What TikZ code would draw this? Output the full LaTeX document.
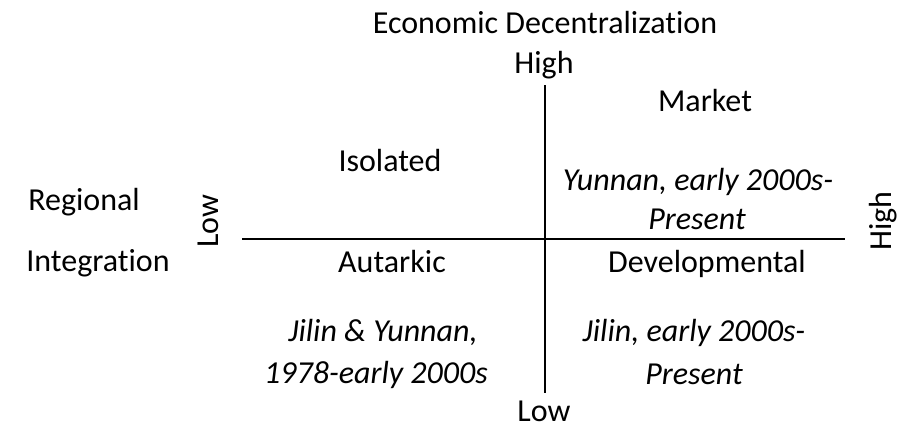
\documentclass[tikz,border=0pt]{standalone}
\usepackage{fontspec}
\setmainfont[Ligatures=NoCommon]{Carlito}
\begin{document}
\begin{tikzpicture}[x=1pt,y=-1pt,font=\fontsize{32}{36}\selectfont,
    lbl/.style={inner sep=0pt,anchor=base},
    era/.style={lbl,font=\fontsize{32}{36}\selectfont\itshape}]
        \useasboundingbox (0,0) rectangle (898,429);

        % axes
        \coordinate (top) at (545,85);
        \coordinate (bottom) at (545,393);
        \coordinate (left) at (242,239);
        \coordinate (right) at (845,239);
        \draw[line width=1.3pt] (top) -- (bottom);
        \draw[line width=1.3pt] (left) -- (right);

        % axis labels
        \node[lbl] (ecotitle) at (545,33) {Economic Decentralization};
        \node[lbl] (ecohigh) at (544,73) {High};
        \node[lbl] (ecolow) at (544,421) {Low};
        \node[lbl,rotate=90] (reglow) at (218,221) {Low};
        \node[lbl,rotate=90] (reghigh) at (891,221) {High};
        \node[lbl] (regtitle1) at (84,210) {Regional};
        \node[lbl] (regtitle2) at (98,271) {Integration};

        % quadrants
        \node[lbl] (market) at (705,111) {Market};
        \node[lbl] (isolated) at (390,171) {Isolated};
        \node[lbl] (autarkic) at (392,272) {Autarkic};
        \node[lbl] (developmental) at (707,272) {Developmental};

        % cases
        \node[era] (yunnan1) at (698,190) {Yunnan, early 2000s-};
        \node[era] (yunnan2) at (697,229) {Present};
        \node[era] (both1) at (383,341) {Jilin \& Yunnan,};
        \node[era] (both2) at (376,383) {1978-early 2000s};
        \node[era] (jilin1) at (694,341) {Jilin, early 2000s-};
        \node[era] (jilin2) at (694,384) {Present};
    \end{tikzpicture}
\end{document}
